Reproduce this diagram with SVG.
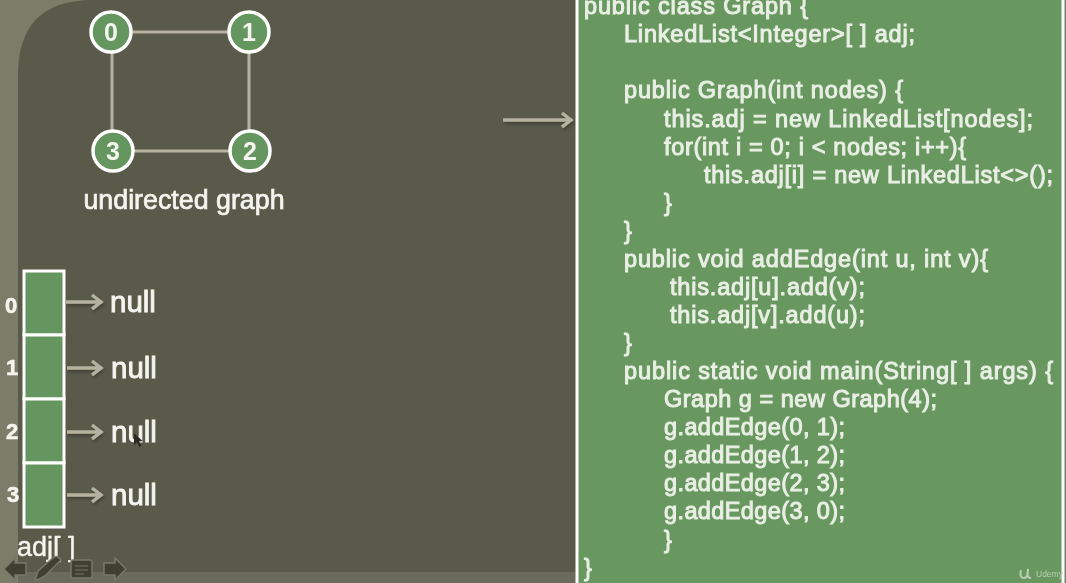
<svg xmlns="http://www.w3.org/2000/svg" width="1066" height="583" viewBox="0 0 1066 583">
<defs>
<marker id="ah" markerUnits="userSpaceOnUse" markerWidth="16" markerHeight="20" refX="14" refY="10" orient="auto"><path d="M4 3L13 10L4 17" fill="none" stroke="#b5b2a0" stroke-width="3.4"/></marker>
<filter id="soft" x="-2%" y="-2%" width="104%" height="104%"><feGaussianBlur stdDeviation="0.45"/></filter>
<filter id="shadow" x="-20%" y="-40%" width="140%" height="180%"><feDropShadow dx="1" dy="2" stdDeviation="1.5" flood-color="#2e2e24" flood-opacity=".6"/></filter>
</defs>
<style>
text{font-family:"Liberation Sans",Arial,sans-serif;fill:#f4f5ef}
.code text{font-size:23.5px;font-weight:400;fill:#e9efe4;stroke:#e9efe4;stroke-width:1}
.n circle{fill:#66965f;stroke:#fff;stroke-width:3.5}
.n text{font-size:25px;font-weight:700;text-anchor:middle}
.cell{fill:#66965f;stroke:#fff;stroke-width:3}
.e{stroke:#b5b2a0;stroke-width:3;fill:none}
.a{stroke:#b5b2a0;stroke-width:3.4;fill:none;marker-end:url(#ah)}
.nl{font-size:29.5px;font-weight:400;stroke:#f4f5ef;stroke-width:.9}
.ix{font-size:22px;font-weight:700;stroke:#f4f5ef;stroke-width:.6}
.t{fill:#3f3f33;stroke:#77776a;stroke-width:1.5}
</style>
<g filter="url(#soft)">
<rect width="1066" height="583" fill="#7b7d68"/>
<path d="M18 583V75Q18 0 93 0H576V572H18Z" fill="#5a5a4c"/>
<rect x="18" y="572" width="558" height="11" fill="#6a6b5d"/>
<g id="connectors">
<path class="e" d="M111 32H249M249 32V151M113 151H250M112 32V151"/>
<g filter="url(#shadow)">
<path class="a" d="M503 120H572"/>
<path class="a" d="M66 302H102"/>
<path class="a" d="M67 368H102"/>
<path class="a" d="M67 432H102"/>
<path class="a" d="M67 495H102"/>
</g>
</g>
<g id="node-0" class="n"><circle cx="111" cy="32" r="20"/><text x="111" y="41">0</text></g>
<g id="node-1" class="n"><circle cx="249" cy="32" r="20"/><text x="249" y="41">1</text></g>
<g id="node-2" class="n"><circle cx="250" cy="151" r="20"/><text x="250" y="160">2</text></g>
<g id="node-3" class="n"><circle cx="113" cy="151" r="20"/><text x="113" y="160">3</text></g>
<text x="184" y="209" font-size="26.8" text-anchor="middle" stroke="#f4f5ef" stroke-width=".7">undirected graph</text>
<g id="array">
<rect class="cell" x="24" y="271" width="40" height="64"/>
<rect class="cell" x="24" y="335" width="40" height="64"/>
<rect class="cell" x="24" y="399" width="40" height="64"/>
<rect class="cell" x="24" y="463" width="40" height="64"/>
<text class="ix" x="11" y="313" text-anchor="middle">0</text>
<text class="ix" x="12" y="375" text-anchor="middle">1</text>
<text class="ix" x="12" y="439" text-anchor="middle">2</text>
<text class="ix" x="13" y="502" text-anchor="middle">3</text>
<text class="nl" x="110" y="312">null</text>
<text class="nl" x="111" y="378">null</text>
<text class="nl" x="111" y="442">null</text>
<text class="nl" x="111" y="505">null</text>
<text x="17" y="556" font-size="27" stroke="#f4f5ef" stroke-width=".4">adj[ ]</text>
</g>
<path d="M134 433l0 12 3-2.500 2.500 4.500 2-1-2.500-4.500 3.500-.5z" fill="#2a2a24"/>
<g id="toolbar">
<path class="t" d="M4 569L15 558V563H26V575H15V580Z"/>
<path class="t" d="M35 581L38 571L54 557Q58 555 61 560L45 576Z"/>
<rect class="t" x="71" y="560" width="21" height="18" rx="2"/>
<path d="M75 566H88M75 570H88M75 574H84" stroke="#77776a" fill="none"/>
<path class="t" d="M126 569L115 558V563H104V575H115V580Z"/>
</g>
<g id="code-panel" class="code">
<rect x="577" y="-3" width="486" height="590" fill="#689761" stroke="#fff" stroke-width="3"/>
<text x="584" y="14" textLength="224">public class Graph {</text>
<text x="624" y="41.500" textLength="291">LinkedList&lt;Integer&gt;[ ] adj;</text>
<text x="624" y="98" textLength="279">public Graph(int nodes) {</text>
<text x="664" y="126.500" textLength="369">this.adj = new LinkedList[nodes];</text>
<text x="664" y="154.500" textLength="302">for(int i = 0; i &lt; nodes; i++){</text>
<text x="704" y="182.500" textLength="349">this.adj[i] = new LinkedList&lt;&gt;();</text>
<text x="664" y="210.500">}</text>
<text x="624" y="238.500">}</text>
<text x="624" y="266.500" textLength="364">public void addEdge(int u, int v){</text>
<text x="670" y="294.500" textLength="195">this.adj[u].add(v);</text>
<text x="670" y="322.500" textLength="195">this.adj[v].add(u);</text>
<text x="624" y="350.500">}</text>
<text x="624" y="379" textLength="429">public static void main(String[ ] args) {</text>
<text x="664" y="407" textLength="273">Graph g = new Graph(4);</text>
<text x="664" y="435" textLength="181">g.addEdge(0, 1);</text>
<text x="664" y="463" textLength="181">g.addEdge(1, 2);</text>
<text x="664" y="491" textLength="181">g.addEdge(2, 3);</text>
<text x="664" y="519" textLength="181">g.addEdge(3, 0);</text>
<text x="664" y="548">}</text>
<text x="584" y="576">}</text>
</g>
<g id="watermark">
<path d="M1021 570Q1019 578 1024 578Q1028 578 1028 569Q1026 578 1031 578" fill="none" stroke="#b9ceb4" stroke-width="2"/>
<text x="1036" y="577" font-size="8.500" style="fill:#b9ceb4;font-weight:400">Udemy</text>
</g>
</g>
</svg>
